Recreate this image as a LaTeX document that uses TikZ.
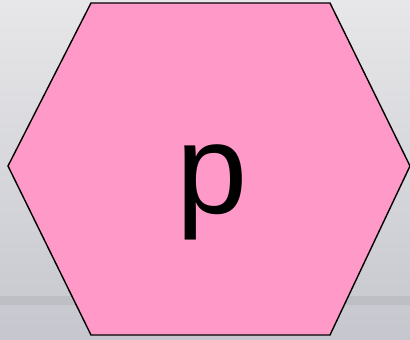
\documentclass[tikz,border=0pt]{standalone}
\usepackage{fontspec}
\setmainfont{Liberation Sans}
\usetikzlibrary{positioning}

\definecolor{bgtop}{RGB}{231,231,233}
\definecolor{bgbot}{RGB}{198,199,206}
\definecolor{bgband}{RGB}{190,190,197}
\definecolor{hexpink}{RGB}{255,153,200}

\begin{document}
\begin{tikzpicture}[x=1pt, y=-1pt,
  hex/.style={draw=black, fill=hexpink, line width=1.4pt, line join=miter},
  letter/.style={font=\fontsize{128}{128}\selectfont, inner sep=0pt, anchor=base}]
  % background
  \shade[top color=bgtop, bottom color=bgbot] (0,0) rectangle (410,340);
  \fill[bgband] (0,296) rectangle (410,305);
  \useasboundingbox (0,0) rectangle (410,340);
  % hexagon
  \draw[hex] (91,3) -- (330,3) -- (410,166) -- (330,335) -- (91,335) -- (8,166) -- cycle;
  \node[letter] (p) at (212,213) {p};
\end{tikzpicture}
\end{document}
